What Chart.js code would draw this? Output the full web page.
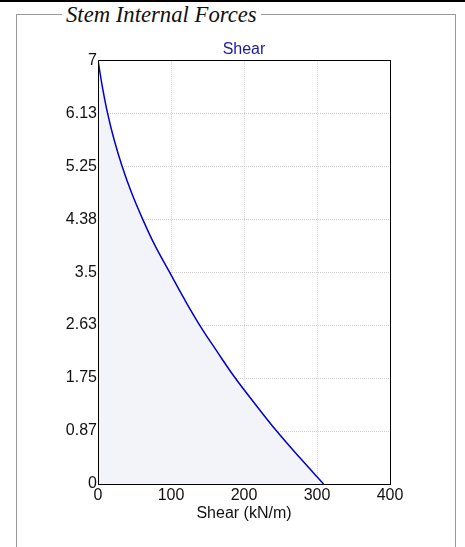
<!DOCTYPE html>
<html lang="en">
<head>
  <meta charset="UTF-8">
  <title>Stem Internal Forces</title>
  <script src="https://cdn.jsdelivr.net/npm/chart.js"></script>
  <style>
    html, body {
      margin: 0;
      padding: 0;
      width: 465px;
      height: 547px;
      overflow: hidden;
      background: #fff;
      font-family: "Liberation Sans", Arial, sans-serif;
    }

    #topLine {
      position: absolute;
      left: 0; top: 0;
      width: 465px; height: 2px;
      background: #000;
    }

    #frame {
      position: absolute;
      left: 16px; top: 14px;
      width: 438px; height: 560px;
      border: 1px solid #999;
    }

    #frameTitle {
      position: absolute;
      left: 62px; top: 2px;
      padding: 0 4px;
      background: #fff;
      font-family: "Liberation Serif", "Times New Roman", serif;
      font-style: italic;
      font-size: 22.7px;
      line-height: 25px;
      color: #111;
    }

    #chartBox {
      position: absolute;
      left: 0; top: 0;
      width: 465px; height: 547px;
    }
  </style>
</head>
<body>

  <div id="topLine"></div>
  <div id="frame"></div>
  <div id="frameTitle">Stem Internal Forces</div>

  <div id="chartBox">
    <canvas id="shearChart" width="465" height="547"></canvas>
  </div>

  <script>
    // height on the stem (m) and shear (kN/m)
    const heights = [7, 6.56, 6.13, 5.69, 5.25, 4.81, 4.38, 3.94, 3.5, 3.06, 2.63, 2.19, 1.75, 1.31, 0.87, 0.44, 0];
    const shear   = [0, 6, 13, 22, 33, 46, 61, 78, 98, 118, 139, 163, 188, 216, 245, 276, 309];

    const xTicks = [0, 100, 200, 300, 400];
    const yTicks = [0, 0.875, 1.75, 2.625, 3.5, 4.375, 5.25, 6.125, 7];
    const yTickLabels = ["0", "0.87", "1.75", "2.63", "3.5", "4.38", "5.25", "6.13", "7"];

    const points = heights.map((h, i) => ({ x: shear[i], y: h }));

    // black frame round the plot area
    const plotFrame = {
      id: "plotFrame",
      afterDraw(chart) {
        const a = chart.chartArea;
        const ctx = chart.ctx;
        ctx.save();
        ctx.strokeStyle = "#000";
        ctx.lineWidth = 1;
        ctx.strokeRect(Math.round(a.left) + 0.5, Math.round(a.top) + 0.5,
                       Math.round(a.right - a.left), Math.round(a.bottom - a.top));
        ctx.restore();
      }
    };

    const font = { family: "'Liberation Sans', Arial, sans-serif", size: 16 };

    new Chart(document.getElementById("shearChart"), {
      type: "scatter",
      data: {
        datasets: [{
          label: "Shear",
          data: points,
          showLine: true,
          borderColor: "#0000d0",
          borderWidth: 1.5,
          backgroundColor: "#f3f4fa",
          fill: "origin",
          pointRadius: 0,
          tension: 0.4
        }]
      },
      options: {
        responsive: false,
        animation: false,
        layout: { padding: { left: 0, right: 75, top: 40, bottom: 20 } },
        plugins: {
          legend: { display: false },
          tooltip: { enabled: false },
          title: {
            display: true,
            fullSize: false,
            text: "Shear",
            color: "#1a1a9c",
            font: { ...font, weight: "normal" },
            padding: { top: 0, bottom: 1 }
          }
        },
        scales: {
          x: {
            type: "linear",
            min: 0,
            max: 400,
            afterBuildTicks: (scale) => { scale.ticks = xTicks.map(v => ({ value: v })); },
            afterFit: (scale) => { scale.height = 43; },
            ticks: { color: "#111", font, padding: 2 },
            grid: { color: "#cfcfcf", drawTicks: false },
            border: { display: false, dash: [1, 1] },
            title: { display: true, text: "Shear (kN/m)", color: "#111", font, padding: { top: 0, bottom: 4 } }
          },
          y: {
            type: "linear",
            min: 0,
            max: 7,
            afterBuildTicks: (scale) => { scale.ticks = yTicks.map(v => ({ value: v })); },
            afterFit: (scale) => { scale.width = 98; },
            ticks: {
              color: "#111",
              font,
              padding: 1,
              callback: (v, i) => yTickLabels[i]
            },
            grid: { color: "#cfcfcf", drawTicks: false },
            border: { display: false, dash: [1, 1] }
          }
        }
      },
      plugins: [plotFrame]
    });
  </script>
</body>
</html>
